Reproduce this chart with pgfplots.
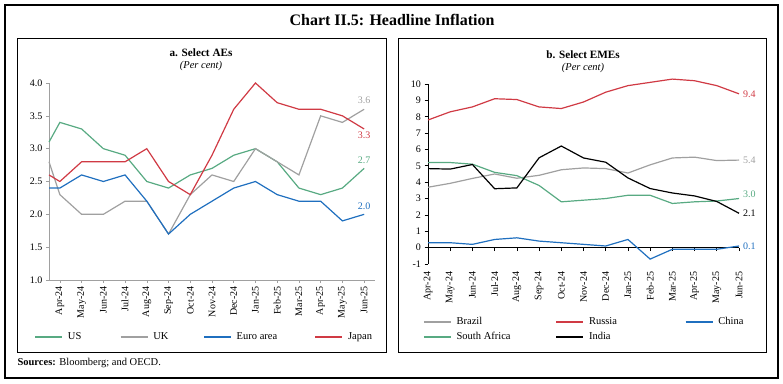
\documentclass[border=0pt]{standalone}
\usepackage{pgfplots}
\pgfplotsset{compat=1.18}
\usepackage{fontspec}
\setmainfont{Liberation Serif}
\definecolor{cgreen}{RGB}{88,170,130}
\definecolor{cgrey}{RGB}{160,160,160}
\definecolor{cblue}{RGB}{31,111,191}
\definecolor{cred}{RGB}{208,58,68}
\begin{document}
\begin{tikzpicture}
\path[use as bounding box] (0pt,0pt) rectangle (783pt,383pt);
\draw[line width=1.1pt] (5pt,5pt) rectangle (778pt,378pt);
\draw[line width=0.9pt] (17pt,31pt) rectangle (386pt,345pt);
\draw[line width=0.9pt] (398pt,31pt) rectangle (766pt,345pt);
\node[font=\fontsize{16}{18}\selectfont\bfseries] at (392pt,363pt) {Chart II.5: Headline Inflation};
\node[anchor=west,font=\fontsize{10.5}{12}\selectfont] at (14pt,20pt) {\textbf{Sources:} Bloomberg; and OECD.};
\node[font=\fontsize{11.2}{13}\selectfont\bfseries] at (201pt,330pt) {a. Select AEs};
\node[font=\fontsize{10.5}{12}\selectfont\itshape] at (201pt,317pt) {(Per cent)};
\node[font=\fontsize{11.2}{13}\selectfont\bfseries] at (583pt,328pt) {b. Select EMEs};
\node[font=\fontsize{10.5}{12}\selectfont\itshape] at (583pt,315pt) {(Per cent)};

\begin{axis}[
  at={(49pt,103pt)}, anchor=south west,
  width=326pt, height=197pt, scale only axis,
  xmin=-0.5, xmax=14.5, ymin=1, ymax=4,
  axis x line*=bottom, axis y line*=left,
  axis line style={cgrey, line width=0.8pt},
  tick style={cgrey, line width=0.6pt},
  tick align=outside, major tick length=3pt,
  xtick={0,...,14},
  xticklabels={Apr-24,May-24,Jun-24,Jul-24,Aug-24,Sep-24,Oct-24,Nov-24,Dec-24,Jan-25,Feb-25,Mar-25,Apr-25,May-25,Jun-25},
  x tick label style={rotate=90, anchor=east},
  ytick={1,1.5,...,4},
  yticklabel style={/pgf/number format/fixed, /pgf/number format/fixed zerofill, /pgf/number format/precision=1},
  /pgf/number format/assume math mode=true,
  ticklabel style={font=\fontsize{10}{11}\selectfont},
  clip=false,
  every axis plot/.append style={line width=1.2pt},
  legend image code/.code={\draw[#1, line width=1.4pt] (0pt,0pt) -- (27pt,0pt);},
  legend columns=4,
  legend style={draw=none, fill=none, at={(-0.045,-0.29)}, anchor=west,
    font=\fontsize{10.5}{11}\selectfont, inner sep=0pt,
    /tikz/every odd column/.append style={column sep=3pt}},
]
\addplot[cgreen] coordinates {(-0.5,3.1) (0,3.4) (1,3.3) (2,3.0) (3,2.9) (4,2.5) (5,2.4) (6,2.6) (7,2.7) (8,2.9) (9,3.0) (10,2.8) (11,2.4) (12,2.3) (13,2.4) (14,2.7)};
\addlegendentry{\makebox[50pt][l]{US}}
\addplot[cgrey] coordinates {(-0.5,2.8) (0,2.3) (1,2.0) (2,2.0) (3,2.2) (4,2.2) (5,1.7) (6,2.3) (7,2.6) (8,2.5) (9,3.0) (10,2.8) (11,2.6) (12,3.5) (13,3.4) (14,3.6)};
\addlegendentry{\makebox[48pt][l]{UK}}
\addplot[cblue] coordinates {(-0.5,2.4) (0,2.4) (1,2.6) (2,2.5) (3,2.6) (4,2.2) (5,1.7) (6,2.0) (7,2.2) (8,2.4) (9,2.5) (10,2.3) (11,2.2) (12,2.2) (13,1.9) (14,2.0)};
\addlegendentry{\makebox[76pt][l]{Euro area}}
\addplot[cred] coordinates {(-0.5,2.6) (0,2.5) (1,2.8) (2,2.8) (3,2.8) (4,3.0) (5,2.5) (6,2.3) (7,2.9) (8,3.6) (9,4.0) (10,3.7) (11,3.6) (12,3.6) (13,3.5) (14,3.3)};
\addlegendentry{\makebox[30pt][l]{Japan}}
\node[font=\fontsize{10}{11}\selectfont, text=cgrey, anchor=south, inner sep=1pt] at (axis cs:14,3.66) {3.6};
\node[font=\fontsize{10}{11}\selectfont, text=cred, anchor=north, inner sep=1pt] at (axis cs:14,3.27) {3.3};
\node[font=\fontsize{10}{11}\selectfont, text=cgreen, anchor=south, inner sep=1pt] at (axis cs:14,2.76) {2.7};
\node[font=\fontsize{10}{11}\selectfont, text=cblue, anchor=south, inner sep=1pt] at (axis cs:14,2.06) {2.0};
\end{axis}

\begin{axis}[
  at={(428pt,119pt)}, anchor=south west,
  width=311pt, height=180pt, scale only axis,
  xmin=0, xmax=14, ymin=-1, ymax=10,
  axis x line*=middle, axis y line*=left,
  hide obscured x ticks=false,
  axis line style={black, line width=0.9pt},
  tick style={black, line width=0.7pt},
  tick align=outside, major tick length=3.5pt,
  xtick={0,...,14},
  xticklabels={Apr-24,May-24,Jun-24,Jul-24,Aug-24,Sep-24,Oct-24,Nov-24,Dec-24,Jan-25,Feb-25,Mar-25,Apr-25,May-25,Jun-25},
  x tick label style={rotate=90, anchor=east},
  xticklabel shift=17pt,
  ytick={-1,0,...,10},
  /pgf/number format/assume math mode=true,
  ticklabel style={font=\fontsize{10}{11}\selectfont},
  clip=false,
  every axis plot/.append style={line width=1.2pt},
  legend image code/.code={\draw[#1, line width=1.4pt] (0pt,0pt) -- (27pt,0pt);},
  legend columns=3,
  legend style={draw=none, fill=none, at={(-0.016,-0.364)}, anchor=west,
    font=\fontsize{10.5}{11}\selectfont, inner sep=0pt, row sep=2pt,
    /tikz/every odd column/.append style={column sep=3pt}},
]
\addplot[cgrey] coordinates {(0,3.69) (1,3.93) (2,4.23) (3,4.50) (4,4.24) (5,4.42) (6,4.76) (7,4.87) (8,4.83) (9,4.56) (10,5.06) (11,5.48) (12,5.53) (13,5.32) (14,5.35)};
\addlegendentry{\makebox[97pt][l]{Brazil}}
\addplot[cred] coordinates {(0,7.8) (1,8.3) (2,8.6) (3,9.1) (4,9.05) (5,8.6) (6,8.5) (7,8.9) (8,9.5) (9,9.9) (10,10.1) (11,10.3) (12,10.2) (13,9.9) (14,9.4)};
\addlegendentry{\makebox[94pt][l]{Russia}}
\addplot[cblue] coordinates {(0,0.3) (1,0.3) (2,0.2) (3,0.5) (4,0.6) (5,0.4) (6,0.3) (7,0.2) (8,0.1) (9,0.5) (10,-0.7) (11,-0.1) (12,-0.1) (13,-0.1) (14,0.1)};
\addlegendentry{\makebox[30pt][l]{China}}
\addplot[cgreen] coordinates {(0,5.2) (1,5.2) (2,5.1) (3,4.6) (4,4.4) (5,3.8) (6,2.8) (7,2.9) (8,3.0) (9,3.2) (10,3.2) (11,2.7) (12,2.8) (13,2.85) (14,3.0)};
\addlegendentry{\makebox[97pt][l]{South Africa}}
\addplot[black] coordinates {(0,4.83) (1,4.80) (2,5.08) (3,3.6) (4,3.65) (5,5.49) (6,6.21) (7,5.48) (8,5.22) (9,4.26) (10,3.61) (11,3.34) (12,3.16) (13,2.82) (14,2.10)};
\addlegendentry{\makebox[94pt][l]{India}}
\node[font=\fontsize{10}{11}\selectfont, text=cred, anchor=west, inner sep=1pt] at ([xshift=3pt]axis cs:14,9.4) {9.4};
\node[font=\fontsize{10}{11}\selectfont, text=cgrey, anchor=west, inner sep=1pt] at ([xshift=3pt]axis cs:14,5.35) {5.4};
\node[font=\fontsize{10}{11}\selectfont, text=cgreen, anchor=west, inner sep=1pt] at ([xshift=3pt,yshift=4pt]axis cs:14,3.0) {3.0};
\node[font=\fontsize{10}{11}\selectfont, text=black, anchor=west, inner sep=1pt] at ([xshift=3pt]axis cs:14,2.1) {2.1};
\node[font=\fontsize{10}{11}\selectfont, text=cblue, anchor=west, inner sep=1pt] at ([xshift=3pt]axis cs:14,0.1) {0.1};
\end{axis}
\end{tikzpicture}
\end{document}
